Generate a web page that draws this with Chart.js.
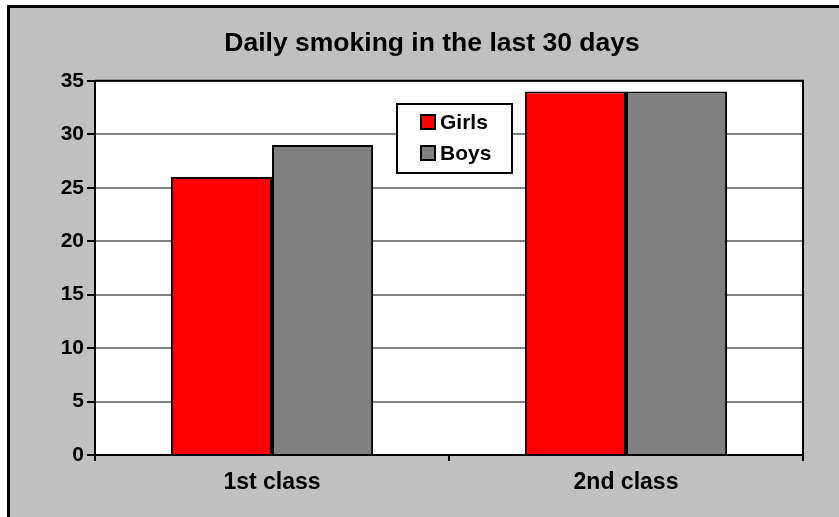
<!DOCTYPE html>
<html>
<head>
<meta charset="utf-8">
<script src="https://cdn.jsdelivr.net/npm/chart.js@4"></script>
<style>
  html, body { margin: 0; padding: 0; background: #fff; overflow: hidden; }
  #frame {
    position: absolute; left: 7px; top: 5px; width: 900px; height: 600px;
    background: #c0c0c0; border-left: 3px solid #000; border-top: 3px solid #000;
  }
  #wrap { position: absolute; left: 0; top: 0; width: 839px; height: 517px; }
</style>
</head>
<body>
<div id="frame"></div>
<div id="wrap"><canvas id="smokeChart" width="839" height="517"></canvas></div>
<script>
const classes = ["1st class", "2nd class"]
const girls = [26, 34]
const boys = [29, 34]
const yTicks = [0, 5, 10, 15, 20, 25, 30, 35]

const FONT = "'Liberation Sans', Arial, sans-serif"

// white plot area + black frame round it
const plotFrame = {
  id: 'plotFrame',
  beforeDraw(chart) {
    const a = chart.chartArea
    const ctx = chart.ctx
    ctx.save()
    ctx.fillStyle = '#fff'
    ctx.fillRect(a.left, a.top, a.right - a.left, a.bottom - a.top)
    ctx.restore()
  },
  afterDraw(chart) {
    const a = chart.chartArea
    const ctx = chart.ctx
    ctx.save()
    ctx.strokeStyle = '#000'
    ctx.lineWidth = 2
    ctx.beginPath()
    ctx.moveTo(a.left, a.top)
    ctx.lineTo(a.right, a.top)
    ctx.lineTo(a.right, a.bottom)
    ctx.stroke()
    ctx.restore()
  }
}

// boxed legend sitting inside the plot
const boxLegend = {
  id: 'boxLegend',
  afterDraw(chart) {
    const ctx = chart.ctx
    const x = 397, y = 104, w = 115, h = 69
    ctx.save()
    ctx.fillStyle = '#fff'
    ctx.fillRect(x, y, w, h)
    ctx.strokeStyle = '#000'
    ctx.lineWidth = 2
    ctx.strokeRect(x, y, w, h)
    ctx.font = 'bold 21px ' + FONT
    ctx.textBaseline = 'middle'
    chart.data.datasets.forEach((ds, i) => {
      const cy = y + 18 + i * 31
      ctx.fillStyle = ds.backgroundColor
      ctx.fillRect(421, cy - 7, 14, 14)
      ctx.strokeRect(421, cy - 7, 14, 14)
      ctx.fillStyle = '#000'
      ctx.fillText(ds.label, 440, cy + 1)
    })
    ctx.restore()
  }
}

new Chart(document.getElementById('smokeChart'), {
  type: 'bar',
  data: {
    labels: classes,
    datasets: [
      { label: 'Girls', data: girls, backgroundColor: '#ff0000', borderColor: '#000', borderWidth: 2 },
      { label: 'Boys', data: boys, backgroundColor: '#808080', borderColor: '#000', borderWidth: 2 }
    ]
  },
  options: {
    responsive: false,
    animation: false,
    events: [],
    categoryPercentage: 0.571,
    barPercentage: 1,
    layout: { padding: { left: 61, right: 36, top: 0, bottom: 0 } },
    plugins: {
      legend: { display: false },
      tooltip: { enabled: false },
      title: {
        display: true,
        text: 'Daily smoking in the last 30 days',
        color: '#000',
        font: { family: FONT, size: 26.5, weight: 'bold', lineHeight: 1.2 },
        padding: { top: 28, bottom: 21 }
      }
    },
    scales: {
      x: {
        afterFit(scale) { scale.height = 62 },
        grid: { offset: true, drawOnChartArea: false, color: '#000', tickLength: 6, lineWidth: 2 },
        border: { color: '#000', width: 2 },
        ticks: { color: '#000', padding: 8, font: { family: FONT, size: 23, weight: 'bold' } }
      },
      y: {
        min: 0,
        max: 35,
        afterFit(scale) { scale.width = 34 },
        afterBuildTicks(scale) { scale.ticks = yTicks.map(v => ({ value: v })) },
        grid: { color: '#808080', lineWidth: 2, tickColor: '#000', tickWidth: 2, tickLength: 8 },
        border: { color: '#000', width: 2 },
        ticks: { color: '#000', padding: 3, font: { family: FONT, size: 21, weight: 'bold' } }
      }
    }
  },
  plugins: [plotFrame, boxLegend]
})
</script>
</body>
</html>
